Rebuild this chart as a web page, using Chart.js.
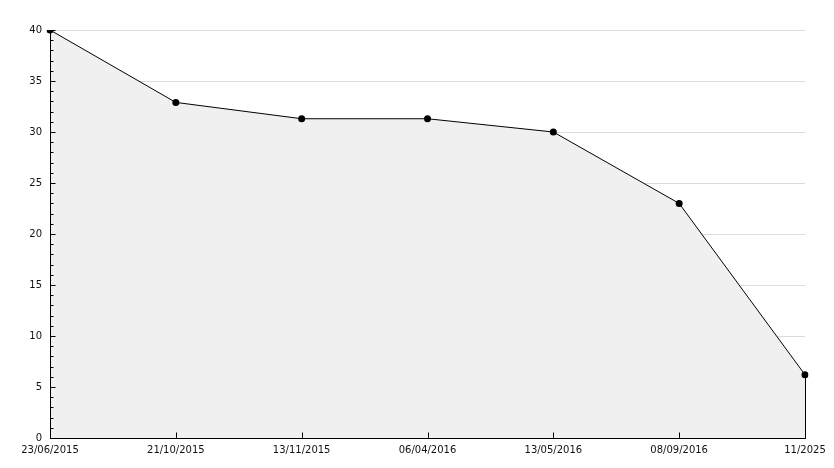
<!DOCTYPE html>
<html>
<head>
<meta charset="utf-8">
<script src="https://cdn.jsdelivr.net/npm/chart.js@4/dist/chart.umd.min.js"></script>
<style>
html,body{margin:0;padding:0;background:#fff;}
#wrap{width:834px;height:468px;position:relative;}
</style>
</head>
<body>
<div id="wrap"><canvas id="c" width="834" height="468"></canvas></div>
<script>
const categories = ["23/06/2015", "21/10/2015", "13/11/2015", "06/04/2016", "13/05/2016", "08/09/2016", "11/2025"];
const values = [40, 32.9, 31.3, 31.3, 30, 23, 6.2];
const yMin = 0, yMax = 40, yMajorStep = 5, yMinorStep = 1;

const tickPlugin = {
  id: 'tickMarks',
  beforeDatasetsDraw(chart) {
  },
  afterDatasetsDraw(chart) {
    const ctx = chart.ctx, x = chart.scales.x, y = chart.scales.y;
    const left = Math.round(chart.chartArea.left) + 0.5;
    const bottom = Math.round(chart.chartArea.bottom) + 0.5;
    const top = Math.round(chart.chartArea.top);
    const last = values.length - 1;
    const lx = Math.round(x.getPixelForValue(last)) + 0.5;
    ctx.save();
    ctx.strokeStyle = '#000';
    ctx.lineWidth = 1;
    ctx.beginPath();
    // axis lines
    ctx.moveTo(left, top);
    ctx.lineTo(left, bottom);
    ctx.lineTo(lx, bottom);
    for (let v = yMin; v <= yMax; v += yMinorStep) {
      const py = Math.round(y.getPixelForValue(v)) + 0.5;
      const len = (v % yMajorStep === 0) ? 5 : 3;
      ctx.moveTo(left, py);
      ctx.lineTo(left + len, py);
    }
    for (let i = 0; i < categories.length; i++) {
      const px = Math.round(x.getPixelForValue(i)) + 0.5;
      ctx.moveTo(px, bottom);
      ctx.lineTo(px, bottom - 6);
    }
    // right edge of the filled area
    ctx.moveTo(lx, y.getPixelForValue(values[last]));
    ctx.lineTo(lx, bottom);
    ctx.stroke();
    ctx.restore();
  }
};

new Chart(document.getElementById('c'), {
  type: 'line',
  data: {
    labels: categories,
    datasets: [{
      data: values,
      borderColor: '#000',
      borderWidth: 1,
      backgroundColor: '#f0f0f0',
      fill: 'origin',
      tension: 0,
      pointRadius: 3.5,
      pointHoverRadius: 3.5,
      pointBackgroundColor: '#000',
      pointBorderColor: '#000',
      pointBorderWidth: 0
    }]
  },
  options: {
    responsive: false,
    animation: false,
    events: [],
    layout: { padding: { top: 30, right: 29, left: 0, bottom: 0 } },
    plugins: { legend: { display: false }, tooltip: { enabled: false } },
    scales: {
      x: {
        type: 'category',
        offset: false,
        afterFit(s) { s.height = 30; },
        grid: { display: false, drawTicks: false },
        border: { display: false },
        ticks: {
          color: '#111', padding: 6, autoSkip: false, maxRotation: 0,
          font: { family: 'DejaVu Sans', size: 10 }
        }
      },
      y: {
        min: yMin, max: yMax,
        afterFit(s) { s.width = 50; },
        grid: { color: '#dcdcdc', drawTicks: false, lineWidth: 1 },
        border: { display: false },
        ticks: {
          stepSize: yMajorStep, color: '#111', padding: 8,
          font: { family: 'DejaVu Sans', size: 10 }
        }
      }
    }
  },
  plugins: [tickPlugin]
});
</script>
</body>
</html>
